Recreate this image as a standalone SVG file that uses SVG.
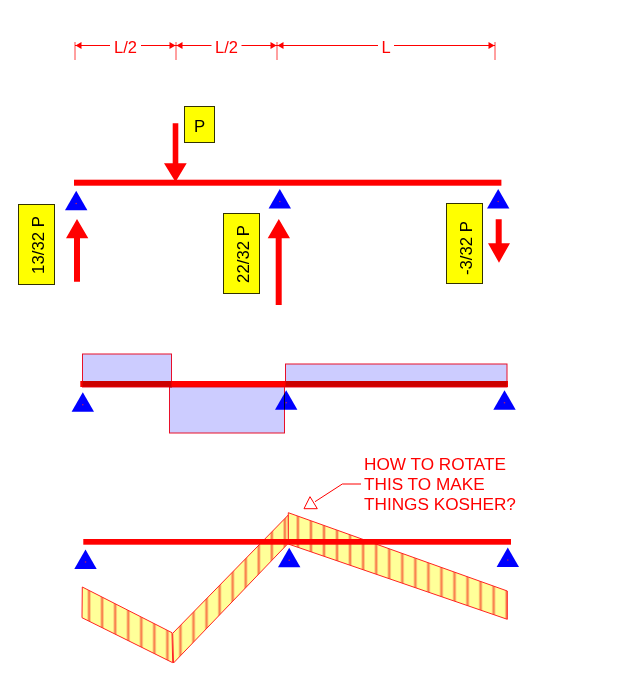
<svg xmlns="http://www.w3.org/2000/svg" width="619" height="699" viewBox="0 0 619 699">
<style>
text{font-family:"Liberation Sans",Arial,sans-serif}
.dim{fill:#f00;font-size:16.5px;text-anchor:middle}
.note{fill:#f00;font-size:17.2px}
.lab{fill:#000;font-size:16.8px;text-anchor:middle}
.box{fill:#ff0;stroke:#330;stroke-width:1}
.thin{stroke:#f00;stroke-width:1;fill:none}
.tick{stroke:#f00;stroke-width:1;opacity:.75}
.beam{fill:#f00}
.sup{fill:#00f}
.dot{fill:#c02060}
.arr{fill:#f00}
.shear{fill:#ccf;mix-blend-mode:multiply;stroke:#e8102a;stroke-width:1}
.mom{fill:url(#hatch);stroke:#f22;stroke-width:1}
</style>
<defs>
<pattern id="hatch" patternUnits="userSpaceOnUse" x="82.6" y="0" width="13.05" height="13.05">
<rect width="13.05" height="13.05" fill="#ffff99"/>
<rect x="5.2" width="2.6" height="13.05" fill="#f98450"/>
</pattern>
<path id="tri" d="M0 0L11.2 19.4H-11.2Z"/>
</defs>
<rect width="619" height="699" fill="#fff"/>
<g id="connectors">
<path class="tick" d="M75 42V60M176 42V60M277 42V60M495 42V60"/>
<path class="thin" d="M75 45.5H110M141 45.5H176M176 45.5H211.5M241.5 45.5H277M277 45.5H378M394 45.5H495M361 484H342.3L315 501.7"/>
<path class="arr" d="M75.5 45.5l6-3.4v6.8ZM175.5 45.5l-6-3.4v6.8ZM176.5 45.5l6-3.4v6.8ZM276.5 45.5l-6-3.4v6.8ZM277.5 45.5l6-3.4v6.8ZM494.5 45.5l-6-3.4v6.8Z"/>
<polygon points="310,496.7 304,508.7 317.3,508.7" fill="#fff" stroke="#f00" stroke-width="1"/>
<path class="arr" d="M172.7 123.3H178.3V163.3H186.7L175.5 182L164 163.3H172.7Z"/>
<path class="arr" d="M74 281.7H80V238.3H88.3L77 219L66 238.3H74Z"/>
<path class="arr" d="M275.7 305H281.7V238.3H290L278.8 219L267.7 238.3H275.7Z"/>
<path class="arr" d="M495.7 219.3H501.7V243.3H510L499 262.7L488 243.3H495.7Z"/>
</g>
<g id="dimensions">
<text class="dim" x="125.5" y="52.7">L/2</text>
<text class="dim" x="226.5" y="52.7">L/2</text>
<text class="dim" x="386" y="52.7">L</text>
</g>
<g id="beam-top">
<rect class="beam" x="74" y="179.7" width="427.4" height="6"/>
</g>
<g id="sup-1"><use href="#tri" class="sup" x="76.2" y="190.8"/><circle class="dot" cx="76.2" cy="203.5" r=".8"/></g>
<g id="sup-2"><use href="#tri" class="sup" x="279.8" y="189"/><circle class="dot" cx="279.8" cy="201.5" r=".8"/></g>
<g id="sup-3"><use href="#tri" class="sup" x="498.2" y="189"/><circle class="dot" cx="498.2" cy="201.5" r=".8"/></g>
<g id="load-p"><rect class="box" x="184.5" y="106.5" width="30" height="36"/><text class="lab" x="199.5" y="132">P</text></g>
<g id="reaction-1"><rect class="box" x="18.5" y="204.5" width="36" height="80"/><text class="lab" transform="translate(44.3 245) rotate(-90)">13/32 P</text></g>
<g id="reaction-2"><rect class="box" x="223.5" y="213.5" width="36" height="80"/><text class="lab" transform="translate(249.3 254) rotate(-90)">22/32 P</text></g>
<g id="reaction-3"><rect class="box" x="446.5" y="203.5" width="36" height="80"/><text class="lab" transform="translate(472.3 248) rotate(-90)">-3/32 P</text></g>
<g id="shear-diagram">
<rect class="beam" x="80.3" y="381" width="427.7" height="6"/>
<use href="#tri" class="sup" x="82.8" y="392.3"/><circle class="dot" cx="82.8" cy="404.8" r=".8"/>
<use href="#tri" class="sup" x="286.2" y="390.3"/><circle class="dot" cx="286.2" cy="402.8" r=".8"/>
<use href="#tri" class="sup" x="504.5" y="390.3"/><circle class="dot" cx="504.5" cy="402.8" r=".8"/>
<rect class="shear" x="82.5" y="354" width="89" height="33"/>
<rect class="shear" x="169.5" y="387" width="115" height="46"/>
<rect class="shear" x="285.5" y="364" width="221.5" height="23"/>
</g>
<g id="moment-diagram">
<polygon class="mom" points="82.3,587 172,632.7 172.7,662.7 82,617.7"/>
<polygon class="mom" points="172.7,633.3 288.3,515 288.5,543 173.5,663"/>
<polygon class="mom" points="288.3,512.7 507.3,591 507.3,619.3 288.3,544"/>
<rect class="beam" x="83.3" y="539" width="427.7" height="5.7"/>
<use href="#tri" class="sup" x="85.5" y="549.5"/><circle class="dot" cx="85.5" cy="562" r=".8"/>
<use href="#tri" class="sup" x="289.2" y="547.8"/><circle class="dot" cx="289.2" cy="560.3" r=".8"/>
<use href="#tri" class="sup" x="507.8" y="547.6"/><circle class="dot" cx="507.8" cy="560" r=".8"/>
</g>
<g id="note">
<text class="note" x="364" y="470">HOW TO ROTATE</text>
<text class="note" x="364" y="490">THIS TO MAKE</text>
<text class="note" x="364" y="510">THINGS KOSHER?</text>
</g>
</svg>
